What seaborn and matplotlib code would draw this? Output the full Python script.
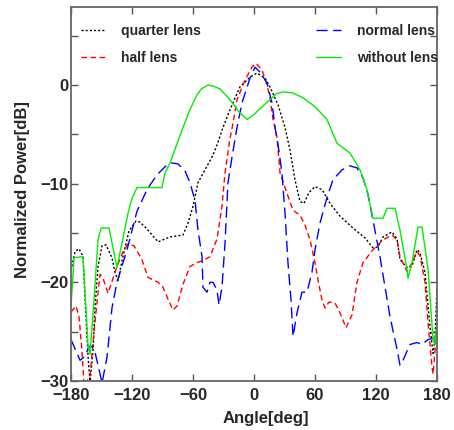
import matplotlib
matplotlib.use("Agg")
import matplotlib.pyplot as plt
import seaborn as sns
import numpy as np

# ---- data ----
quarter_angle = [-180.0, -176.1, -172.1, -168.2, -166.2, -163.3, -161.3, -158.4, -156.4, -153.4,
                 -149.5, -145.6, -139.7, -136.7, -133.8, -128.9, -123.0, -116.1, -112.1, -105.2,
                 -94.4, -82.6, -69.8, -64.9, -60.0, -55.1, -48.2, -40.3, -35.4, -30.5,
                 -21.6, -13.8, -3.9, 3.0, 10.8, 15.7, 23.6, 30.5, 35.4, 40.3,
                 45.2, 49.1, 54.1, 60.0, 66.9, 74.8, 84.6, 97.4, 109.2, 117.0,
                 121.9, 126.9, 135.7, 140.7, 143.6, 150.5, 155.4, 160.3, 163.3, 168.2,
                 173.1, 176.1, 178.0, 180.0]
quarter_db = [-18.8, -16.9, -16.6, -17.4, -21.6, -27.4, -30.2, -27.0, -22.5, -18.4,
              -16.3, -16.2, -17.5, -19.0, -19.8, -17.4, -14.8, -13.8, -13.9, -14.6,
              -15.9, -15.4, -15.2, -14.0, -12.3, -9.9, -8.6, -7.1, -5.8, -4.3,
              -2.0, -0.2, 0.8, 1.2, 0.7, -0.2, -2.0, -4.3, -6.6, -9.6,
              -11.8, -12.0, -10.9, -10.3, -10.6, -12.0, -13.3, -14.5, -15.5, -16.5,
              -16.4, -15.4, -14.9, -15.6, -17.7, -18.5, -18.4, -16.7, -17.0, -19.0,
              -24.5, -27.2, -25.8, -20.5]

half_angle = [-180.0, -175.1, -172.1, -169.2, -167.2, -161.3, -156.4, -151.5, -148.5, -143.6,
              -141.6, -134.8, -128.9, -123.9, -118.0, -110.2, -104.3, -94.4, -89.5, -84.6,
              -79.7, -75.7, -69.8, -63.0, -56.1, -50.2, -43.3, -36.4, -31.5, -28.5,
              -23.6, -21.6, -16.7, -8.9, -2.0, 2.0, 7.9, 12.8, 15.7, 18.7,
              22.6, 25.6, 32.5, 38.4, 45.2, 50.2, 55.1, 60.0, 63.0, 66.9,
              69.8, 73.8, 79.7, 84.6, 90.5, 96.4, 101.3, 107.2, 117.0, 126.9,
              135.7, 140.7, 143.6, 150.5, 155.4, 160.3, 163.3, 168.2, 171.2, 175.1,
              176.1, 178.0, 180.0]
half_db = [-23.0, -22.4, -23.5, -27.0, -30.5, -29.5, -24.0, -19.2, -19.6, -21.1,
           -20.5, -18.4, -16.9, -16.1, -16.3, -17.7, -19.5, -20.0, -20.5, -21.7,
           -22.8, -22.4, -20.2, -18.4, -18.0, -17.8, -17.4, -15.6, -12.3, -8.9,
           -5.4, -4.4, -1.5, 0.5, 1.8, 2.2, 1.5, 0.0, -1.3, -3.5,
           -5.3, -8.9, -11.0, -12.7, -13.2, -14.2, -15.7, -18.0, -19.8, -21.8,
           -22.6, -22.0, -22.1, -23.1, -24.6, -23.3, -20.0, -18.0, -16.7, -15.7,
           -15.2, -15.7, -17.4, -18.9, -18.0, -16.9, -17.3, -20.0, -24.1, -28.6,
           -29.3, -27.0, -25.0]

normal_angle = [-180.0, -171.1, -166.2, -162.3, -159.3, -156.4, -153.4, -149.5, -144.6, -139.7,
                -134.8, -124.9, -115.1, -105.2, -95.4, -85.6, -80.7, -74.8, -67.9, -63.0,
                -58.0, -55.1, -51.1, -50.2, -46.2, -43.3, -40.3, -36.4, -34.4, -31.5,
                -28.5, -25.6, -21.6, -16.7, -11.8, -3.9, 1.0, 5.9, 12.8, 17.7,
                20.7, 23.6, 27.5, 30.5, 33.4, 36.4, 38.4, 42.3, 47.2, 52.1,
                57.0, 60.0, 64.9, 71.8, 77.7, 86.6, 94.4, 101.3, 107.2, 112.1,
                117.0, 123.9, 133.8, 140.7, 143.6, 146.6, 153.4, 160.3, 165.3, 171.2,
                180.0]
normal_db = [-25.8, -27.9, -27.5, -26.5, -26.5, -27.1, -28.4, -30.2, -27.6, -22.6,
             -20.0, -16.7, -12.8, -10.6, -9.1, -8.1, -7.9, -8.0, -8.7, -9.9,
             -11.7, -14.7, -17.4, -20.5, -21.0, -20.0, -20.0, -20.8, -22.3, -20.5,
             -16.0, -9.9, -7.3, -4.3, -1.8, 0.7, 1.8, 1.3, 0.2, -1.8,
             -4.3, -6.0, -8.9, -13.0, -18.0, -21.8, -25.5, -23.1, -21.0, -21.0,
             -19.0, -16.7, -14.0, -11.4, -9.6, -8.6, -8.2, -8.4, -9.4, -11.1,
             -13.7, -17.4, -23.5, -26.8, -28.4, -27.9, -26.3, -26.1, -26.3, -25.8,
             -25.6]

without_angle = [-180.0, -177.0, -168.2, -163.3, -161.3, -158.4, -153.4, -150.5, -142.6, -134.8,
                 -123.9, -120.0, -115.1, -90.5, -87.5, -82.6, -69.8, -63.0, -56.1, -51.7,
                 -45.2, -40.4, -33.4, -23.6, -15.0, -6.9, 0.0, 8.0, 15.7, 22.0,
                 28.5, 38.0, 48.2, 60.0, 71.8, 81.6, 94.4, 104.3, 111.1,
                 117.0, 126.9, 130.8, 138.7, 143.6, 150.5, 151.5, 155.4, 161.3, 165.3,
                 171.2, 176.1, 178.0, 180.0]
without_db = [-22.5, -17.5, -17.4, -26.3, -27.3, -23.3, -15.7, -14.5, -14.5, -18.5,
              -13.0, -11.5, -10.4, -10.4, -8.9, -7.9, -4.3, -2.5, -1.0, -0.4,
              0.0, -0.1, -0.4, -1.5, -2.7, -3.5, -3.0, -2.2, -1.5, -0.9,
              -0.7, -0.8, -1.3, -2.2, -3.5, -5.9, -6.9, -8.6, -10.6,
              -13.5, -13.5, -12.5, -12.5, -14.7, -18.7, -19.6, -18.0, -14.4, -14.4,
              -18.7, -25.8, -26.3, -23.8]

series_labels = ["quarter lens", "half lens", "normal lens", "without lens"]
x_ticks = [-180, -120, -60, 0, 60, 120, 180]
y_ticks = [-30, -20, -10, 0]

# ---- figure ----
sns.set_style("white")
plt.rcParams["font.family"] = ["Liberation Sans", "DejaVu Sans"]
plt.rcParams["font.weight"] = "bold"

fig = plt.figure(figsize=(4.54, 4.30), dpi=100)
ax = fig.add_axes([71 / 454, 1 - 381 / 430, 366 / 454, 374 / 430])

styles = [
    (quarter_angle, quarter_db, "black", (0, (1.5, 1.5))),
    (half_angle, half_db, "#ff0000", (0, (4, 2.5))),
    (normal_angle, normal_db, "#0000ff", (0, (8, 4))),
    (without_angle, without_db, "#00ee00", "-"),
]
for (xa, ya, col, ls), lab in zip(styles, series_labels):
    sns.lineplot(x=np.array(xa), y=np.array(ya), ax=ax, color=col, linestyle=ls,
                 linewidth=1.0, label=lab, estimator=None, sort=False)

ax.set_xlim(-180, 180)
ax.set_ylim(-30, 7.9)
ax.set_xticks(x_ticks)
ax.set_xticklabels(["\u2212180", "\u2212120", "\u221260", "0", "60", "120", "180"])
ax.set_yticks(y_ticks)
ax.set_yticklabels(["\u221230", "\u221220", "\u221210", "0"])
ax.set_yticks([-25, -15, -5, 5], minor=True)
ax.tick_params(axis="both", which="both", direction="in", top=True, right=True,
               bottom=True, left=True, color="#555555")
ax.tick_params(axis="both", which="major", length=5, width=1, labelsize=12)
ax.tick_params(axis="x", which="major", pad=5)
ax.tick_params(axis="y", which="major", pad=2)
ax.tick_params(axis="y", which="minor", length=5, width=1)
for t in ax.get_xticklabels() + ax.get_yticklabels():
    t.set_fontweight("bold")
for sp in ax.spines.values():
    sp.set_color("#666666")
    sp.set_linewidth(1.3)

ax.set_xlabel("Angle[deg]", fontsize=12, fontweight="bold")
ax.set_ylabel("Normalized Power[dB]", fontsize=12, fontweight="bold")
ax.xaxis.set_label_coords((266 - 71) / 366, (381 - 411) / 374)
ax.yaxis.set_label_coords((30 - 71) / 366, (381 - 190) / 374)

leg = ax.legend(ncol=2, loc="upper left", frameon=False,
                bbox_to_anchor=(81 / 454, 1 - 24 / 430), bbox_transform=fig.transFigure,
                borderpad=0, borderaxespad=0, handlelength=1.8, handletextpad=1.1,
                columnspacing=8.3, labelspacing=0.95,
                prop={"family": "Liberation Sans", "weight": "bold", "size": 10})

fig.savefig("out.png", dpi=100)
